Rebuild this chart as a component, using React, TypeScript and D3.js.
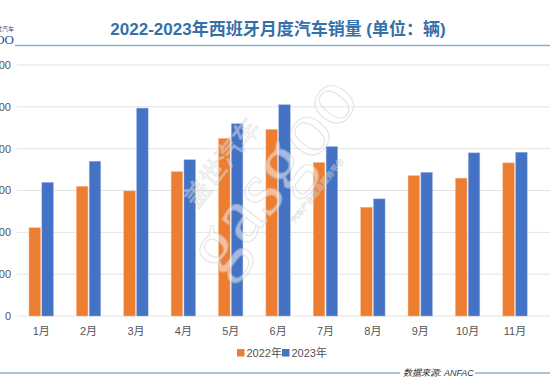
import React from "react";
import * as d3 from "d3";

const months = ["1月", "2月", "3月", "4月", "5月", "6月", "7月", "8月", "9月", "10月", "11月"];
const sales2022 = [42200, 62000, 59800, 69000, 84900, 89200, 73400, 52000, 67100, 65900, 73200];
const sales2023 = [63900, 74000, 99400, 74700, 91900, 101000, 81000, 56000, 68700, 78000, 78300];
const seriesNames = ["2022年", "2023年"];
const yTicks = [0, 20000, 40000, 60000, 80000, 100000, 120000];
const title = "2022-2023年西班牙月度汽车销量 (单位：辆)";
const source = "数据来源: ANFAC";

const W = 550;
const H = 378;
const COLORS = ["#ED7D31", "#4472C4"];
const FONT = "'Liberation Sans', Arial, 'Noto Sans CJK SC', sans-serif";

export default function App() {
  const x = d3.scaleBand<string>().domain(months).range([17.5, 538.7]).paddingInner(0).paddingOuter(0);
  const inner = d3.scaleBand<string>().domain(seriesNames).range([11.5, x.bandwidth() - 11.5]).paddingInner(0.1);
  const y = d3.scaleLinear().domain([0, 120000]).range([316, 65]);
  const series = [sales2022, sales2023];

  return (
    <svg width={W} height={H} style={{ position: "absolute", left: 0, top: 0, background: "#fff" }} fontFamily={FONT}>
      {/* logo top-left */}
      <text x={14} y={31} textAnchor="end" fontSize={6} fill="#2a4f8a">盖世汽车</text>
      <text x={14} y={44} textAnchor="end" fontSize={13} fill="#2a4f8a" fontFamily="'Liberation Serif', serif">GASGOO</text>
      {/* title */}
      <text x={278} y={35} textAnchor="middle" fontSize={17} fontWeight={600} fill="#3570a8">{title}</text>
      <line x1={15} x2={W} y1={45.5} y2={45.5} stroke="#8fb0cc" strokeWidth={1.5} />

      {/* grid + y labels */}
      {yTicks.map((t) => (
        <g key={t}>
          <line x1={17} x2={W} y1={y(t)} y2={y(t)} stroke="#e3e3e3" strokeWidth={1} />
          <text x={11} y={y(t)} dy="0.35em" textAnchor="end" fontSize={11} fill="#555">{t}</text>
        </g>
      ))}

      {/* bars */}
      {months.map((m, i) => (
        <g key={m} transform={`translate(${x(m)},0)`}>
          {series.map((s, j) => (
            <rect
              key={j}
              x={inner(seriesNames[j])}
              y={y(s[i])}
              width={inner.bandwidth()}
              height={y(0) - y(s[i])}
              fill={COLORS[j]}
              stroke={j === 0 ? "#f6b98a" : "#9fb6e4"}
              strokeWidth={0.5}
            />
          ))}
          <text x={x.bandwidth() / 2} y={331} dy="0.35em" textAnchor="middle" fontSize={11} fill="#555">{m}</text>
        </g>
      ))}

      {/* watermark */}
      <g transform="translate(282,182) rotate(-52)" opacity={0.5}>
        <text x={0} y={12} textAnchor="middle" fontSize={80} fill="#ffffff" stroke="#cfcfcf" strokeWidth={1.2} fontFamily="'Liberation Serif', serif">gasgoo</text>
        <text x={-22} y={-50} textAnchor="middle" fontSize={26} fill="#ffffff" stroke="#cfcfcf" strokeWidth={1}>盖世汽车</text>
        <text x={15} y={36} textAnchor="middle" fontSize={8} fill="#ffffff" stroke="#cfcfcf" strokeWidth={0.6}>汽车产业信息服务平台</text>
      </g>

      {/* legend */}
      {seriesNames.map((n, j) => {
        const lx = 237 + j * 45;
        return (
          <g key={n}>
            <rect x={lx} y={349} width={7.5} height={7.5} fill={COLORS[j]} />
            <text x={lx + 9.5} y={353} dy="0.35em" fontSize={11} fill="#555">{n}</text>
          </g>
        );
      })}

      {/* footer */}
      <line x1={0} x2={400} y1={373} y2={373} stroke="#8fb0cc" strokeWidth={1.5} />
      <text x={403} y={373} dy="0.35em" fontSize={9} fontStyle="italic" fill="#333">{source}</text>
      <line x1={475} x2={W} y1={373} y2={373} stroke="#8fb0cc" strokeWidth={1.5} />
    </svg>
  );
}
